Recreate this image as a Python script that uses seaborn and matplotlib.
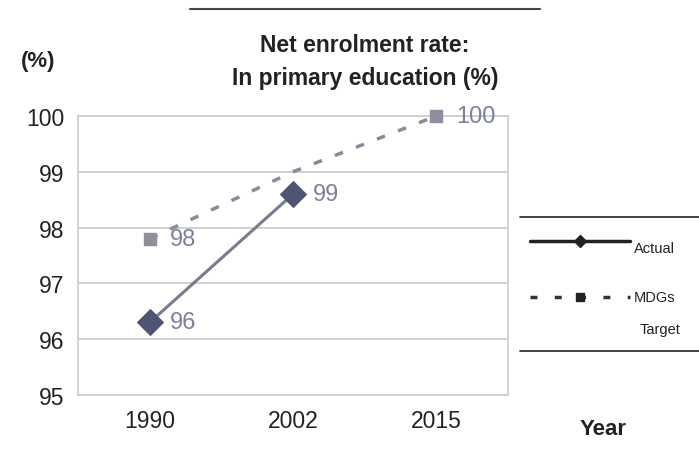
import matplotlib
matplotlib.use("Agg")
import matplotlib.pyplot as plt
import matplotlib.lines as mlines
import seaborn as sns
import pandas as pd

years = ["1990", "2002", "2015"]
actual = [96.3, 98.6, None]
target = [97.8, 99.0, 100.0]
actual_labels = ["96", "99", ""]
target_labels = ["98", "", "100"]
yticks = [95, 96, 97, 98, 99, 100]

sns.set_theme(style="white")
plt.rcParams['font.family'] = ['Liberation Sans', 'DejaVu Sans']

fig = plt.figure(figsize=(6.99, 4.56), dpi=100)
ax = fig.add_axes([78/699, 1 - 396/456, (508-78)/699, (396-117)/456])

df_t = pd.DataFrame({"year": years, "value": target})
df_a = pd.DataFrame({"year": years[:2], "value": actual[:2]})

sns.lineplot(data=df_t, x="year", y="value", ax=ax, color="#8a8a9c",
             linestyle=(0, (2.5, 4)), linewidth=2.5, sort=False)
ax.scatter([years[0], years[2]], [target[0], target[2]], marker="s", s=70,
           color="#8e8ea0", zorder=4, clip_on=False)
sns.lineplot(data=df_a, x="year", y="value", ax=ax, color="#787c92",
             linewidth=2.2, marker="D", markersize=13, markerfacecolor="#4e5573",
             markeredgecolor="#4e5573", sort=False)

lab_color = "#7c809a"
for i, y in enumerate(years):
    if actual_labels[i]:
        ax.text(i + 0.14, actual[i], actual_labels[i], fontsize=17, color=lab_color,
                va="center", ha="left")
    if target_labels[i]:
        ax.text(i + 0.14, target[i], target_labels[i], fontsize=17, color=lab_color,
                va="center", ha="left")

ax.set_ylim(95, 100)
ax.set_xlim(-0.5, 2.5)
ax.set_yticks(yticks)
ax.yaxis.grid(True, color="#c8c8c8", linewidth=1.2)
ax.set_xlabel("")
ax.set_ylabel("")
ax.tick_params(axis="both", labelsize=16.5, colors="#222222", length=0, pad=10)
for s in ["top", "left", "right", "bottom"]:
    ax.spines[s].set_visible(True)
    ax.spines[s].set_color("#cccccc")
    ax.spines[s].set_linewidth(1.2)

fig.text(365/699, 1 - 45/456, "Net enrolment rate:", ha="center", va="center",
         fontsize=16.5, fontweight="bold", color="#222222")
fig.text(365/699, 1 - 78/456, "In primary education (%)", ha="center", va="center",
         fontsize=16.5, fontweight="bold", color="#222222")
fig.text(38/699, 1 - 62/456, "(%)", ha="center", va="center", fontsize=16,
         fontweight="bold", color="#222222")
fig.text(603/699, 1 - 430/456, "Year", ha="center", va="center", fontsize=16,
         fontweight="bold", color="#222222")

# decorative rules
fig.add_artist(mlines.Line2D([190/699, 540/699], [1 - 10/456, 1 - 10/456],
                             color="#444444", linewidth=1.5))
fig.add_artist(mlines.Line2D([520/699, 1.0], [1 - 218/456, 1 - 218/456],
                             color="#333333", linewidth=1.3))
fig.add_artist(mlines.Line2D([520/699, 1.0], [1 - 352/456, 1 - 352/456],
                             color="#333333", linewidth=1.3))

# legend drawn manually
fig.add_artist(mlines.Line2D([530/699, 630/699], [1 - 242/456, 1 - 242/456],
                             color="#222222", linewidth=2.5))
fig.add_artist(mlines.Line2D([580/699], [1 - 242/456], marker="D", markersize=6,
                             color="#222222"))
fig.text(634/699, 1 - 249/456, "Actual", ha="left", va="center", fontsize=10.5,
         color="#222222")
fig.add_artist(mlines.Line2D([530/699, 630/699], [1 - 298/456, 1 - 298/456],
                             color="#333333", linewidth=2.5, linestyle=(0, (2, 5))))
fig.add_artist(mlines.Line2D([580/699], [1 - 298/456], marker="s", markersize=6,
                             color="#222222"))
fig.text(634/699, 1 - 298/456, "MDGs", ha="left", va="center", fontsize=10.5,
         color="#222222")
fig.text(640/699, 1 - 330/456, "Target", ha="left", va="center", fontsize=10.5,
         color="#222222")

fig.savefig("out.png", dpi=100)
